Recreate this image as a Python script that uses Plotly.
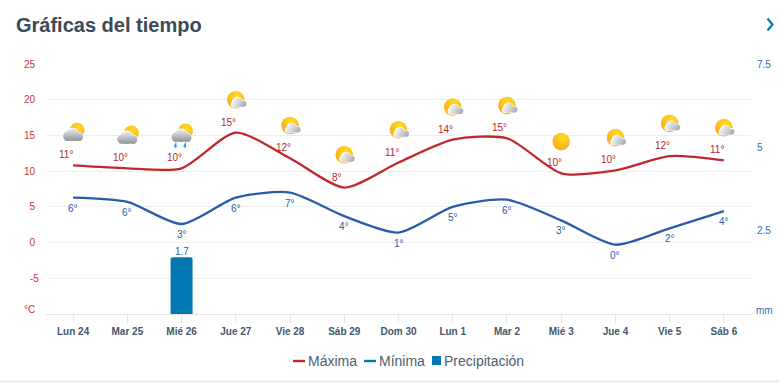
import base64
import plotly.graph_objects as go

days = ["Lun 24", "Mar 25", "Mié 26", "Jue 27", "Vie 28", "Sáb 29", "Dom 30",
        "Lun 1", "Mar 2", "Mié 3", "Jue 4", "Vie 5", "Sáb 6"]
max_curve = [10.8, 10.4, 10.4, 15.4, 11.8, 7.7, 11.2, 14.4, 14.6, 9.7, 10.1, 12.1, 11.5]
min_curve = [6.3, 5.7, 2.6, 6.3, 7.0, 3.7, 1.4, 5.0, 6.0, 3.1, -0.3, 2.0, 4.4]
max_labels = [11, 10, 10, 15, 12, 8, 11, 14, 15, 10, 10, 12, 11]
min_labels = [6, 6, 3, 6, 7, 4, 1, 5, 6, 3, 0, 2, 4]
rain = [None, None, 1.7, None, None, None, None, None, None, None, None, None, None]
sky = ["cloud", "cloud", "rain", "part", "part", "part", "part",
       "part", "part", "sun", "part", "part", "part"]

L, R, T, B, W, H = 46, 751, 64, 314, 779, 383
RED, NAVY, BLUE = "#c1272d", "#2a5cab", "#0277b3"
FONT = "Liberation Sans"


def px(x):
    return (x - L) / (R - L)


def py(y):
    return (B - y) / (B - T)


DEFS = """<defs>
<radialGradient id='s' cx='0.6' cy='0.3' r='0.8'><stop offset='0' stop-color='#ffdd22'/><stop offset='1' stop-color='#f8a51b'/></radialGradient>
<linearGradient id='c' gradientUnits='userSpaceOnUse' x1='0' y1='12' x2='0' y2='25'><stop offset='0' stop-color='#f0f0f2'/><stop offset='1' stop-color='#8f9196'/></linearGradient>
<linearGradient id='d' gradientUnits='userSpaceOnUse' x1='16' y1='15' x2='31' y2='23'><stop offset='0' stop-color='#ffffff'/><stop offset='1' stop-color='#a0a2a7'/></linearGradient>
</defs>"""


def blob(parts, fill):
    # parts: circles (cx, cy, r) plus a flat base rectangle (x, y, w, h)
    circles, base = parts
    body = "".join(f"<circle cx='{x}' cy='{y}' r='{r}'/>" for x, y, r in circles)
    rect = f"<rect x='{base[0]}' y='{base[1]}' width='{base[2]}' height='{base[3]}'/>"
    halo = f"<g fill='#fff' stroke='#fff' stroke-width='1.2'>{body}{rect}</g>"
    return f"{halo}<g fill='{fill}'>{body}{rect}</g>"


BIG_CLOUD = ("<circle cx='24' cy='14' r='7.4' fill='url(#s)'/>"
             + blob(([(14.5, 20, 4.6), (19.5, 18.5, 6.4), (25.8, 20.6, 4.1)], (12, 20, 16, 4.6)), "url(#c)"))
ICONS = {
    "sun": "<circle cx='20' cy='17.5' r='8.7' fill='url(#s)'/>",
    "part": ("<circle cx='20' cy='16.5' r='8.8' fill='url(#s)'/>"
             + blob(([(21.5, 18.8, 4.7), (27.5, 20.5, 3), (18, 21, 2.5)], (18, 20, 10, 3.5)), "url(#d)")),
    "cloud": BIG_CLOUD,
    "rain": ("<g transform='translate(0,-2)'>" + BIG_CLOUD + "</g>"
             "<path d='M14.5 22.5 L12.4 27 A1.6 1.6 0 0 0 15.2 28.2 Z M24 22.5 L21.9 27 A1.6 1.6 0 0 0 24.7 28.2 Z' "
             "fill='#3f97e8'/>"),
}


def icon_uri(kind):
    svg = f"<svg xmlns='http://www.w3.org/2000/svg' width='40' height='35' viewBox='0 0 40 35'>{DEFS}{ICONS[kind]}</svg>"
    return "data:image/svg+xml;base64," + base64.b64encode(svg.encode()).decode()


fig = go.Figure()
fig.add_trace(go.Bar(x=days, y=rain, yaxis="y2", width=0.405, name="Precipitación",
                     marker=dict(color=BLUE, cornerradius=2, line_width=0)))
fig.add_trace(go.Scatter(x=days, y=max_curve, mode="lines", name="Máxima",
                         line=dict(color=RED, width=2.3, shape="spline", smoothing=0.7)))
fig.add_trace(go.Scatter(x=days, y=min_curve, mode="lines", name="Mínima",
                         line=dict(color=NAVY, width=2.3, shape="spline", smoothing=0.7)))

annotations = []
for d, v, lab in zip(days, max_curve, max_labels):
    annotations.append(dict(x=d, y=v, text=f"{lab}°", showarrow=False, xshift=-7, yshift=10.5,
                            font=dict(family=FONT, size=10, color="#b3262f")))
for d, v, lab in zip(days, min_curve, min_labels):
    annotations.append(dict(x=d, y=v, text=f"{lab}°", showarrow=False, yshift=-10.5,
                            font=dict(family=FONT, size=10, color=NAVY)))
for d, v in zip(days, rain):
    if v is not None:
        annotations.append(dict(x=d, y=v, yref="y2", text=f"{v}", showarrow=False, yshift=5.5,
                                font=dict(family=FONT, size=10, color=NAVY)))


def page_text(x, y, text, size, color, anchor="left"):
    annotations.append(dict(xref="paper", yref="paper", x=px(x), y=py(y), text=text, showarrow=False,
                            xanchor=anchor, yanchor="middle", xshift=0, borderpad=0,
                            font=dict(family=FONT, size=size, color=color)))


page_text(35.5, 309, "°C", 10, "#c9333a", "right")
page_text(39.5, 278, "-5", 10, "#c9333a", "right")
page_text(755, 310, "mm", 10, "#2f6db0")
page_text(307, 361, "Máxima", 14, "#4c6075")
page_text(378, 361, "Mínima", 14, "#4c6075")
page_text(443, 361, "Precipitación", 14, "#4c6075")

shapes = [
    dict(type="rect", xref="paper", yref="paper", x0=px(0), x1=px(W), y0=py(380), y1=py(H),
         fillcolor="#eeeeee", line_width=0, layer="below"),
    dict(type="line", xref="paper", yref="paper", x0=px(293), x1=px(305), y0=py(361), y1=py(361),
         line=dict(color=RED, width=2.4)),
    dict(type="line", xref="paper", yref="paper", x0=px(364), x1=px(376), y0=py(361), y1=py(361),
         line=dict(color=BLUE, width=2.4)),
    dict(type="rect", xref="paper", yref="paper", x0=px(432), x1=px(441), y0=py(356), y1=py(365),
         fillcolor=BLUE, line_width=0),
    dict(type="path", xref="paper", yref="paper", line=dict(color=BLUE, width=2.2),
         path=f"M {px(767.5)} {py(18.5)} L {px(772.5)} {py(24.5)} L {px(767.5)} {py(30.5)}"),
]

images = [dict(source=icon_uri(kind), xref="x", yref="y", x=i, y=v + 4.45,
               sizex=40 / 54.23, sizey=35 / 7.143, xanchor="center", yanchor="middle",
               sizing="stretch", layer="above")
          for i, (kind, v) in enumerate(zip(sky, max_curve))]

fig.update_layout(
    width=W, height=H, autosize=False, showlegend=False, bargap=0.6,
    margin=dict(l=L, r=W - R, t=T, b=H - B, pad=0, autoexpand=False),
    paper_bgcolor="white", plot_bgcolor="white",
    font=dict(family=FONT),
    title=dict(text="<b>Gráficas del tiempo</b>", x=16 / W, y=1 - 25 / H, xanchor="left", yanchor="middle",
               xref="container", yref="container", font=dict(family=FONT, size=20, color="#3b4a58")),
    xaxis=dict(type="category", categoryorder="array", categoryarray=days, tickmode="array", tickvals=days,
               range=[-0.5, 12.5], showgrid=False, ticks="outside", ticklen=8, tickcolor="#e6e6e6", tickwidth=1,
               showline=True, linecolor="#e6e6e6", linewidth=1, zeroline=False, automargin=False,
               tickfont=dict(family=FONT, size=10, color="#46586a", weight="bold")),
    yaxis=dict(range=[-10, 25], tickmode="array", tickvals=[-10, -5, 0, 5, 10, 15, 20, 25],
               ticktext=["", "", "0", "5", "10", "15", "20", "25"], automargin=False,
               showgrid=True, gridcolor="#eeeeee", gridwidth=1, zeroline=False, ticks="", ticklabelstandoff=10,
               tickfont=dict(family=FONT, size=10, color="#c9333a")),
    yaxis2=dict(range=[0, 7.5], overlaying="y", side="right", tickmode="array", tickvals=[2.5, 5, 7.5],
                ticktext=["2.5", "5", "7.5"], showgrid=False, zeroline=False, ticks="", ticklabelstandoff=5,
                automargin=False, tickfont=dict(family=FONT, size=10, color="#2f6db0")),
    annotations=annotations, shapes=shapes, images=images,
)
fig.write_html("out.html", config={"displayModeBar": False},
               post_script="document.body.style.margin='0';document.body.style.overflow='hidden';")
